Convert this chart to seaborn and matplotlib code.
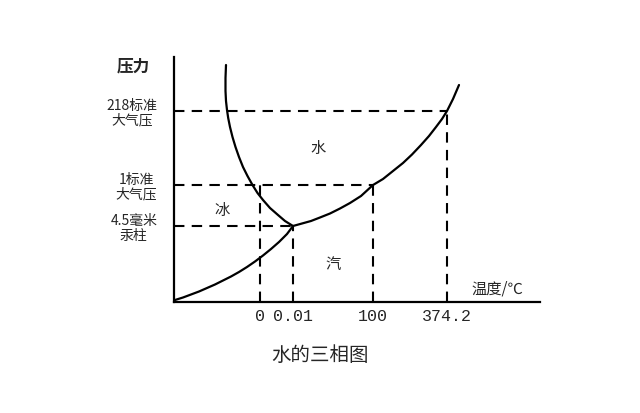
import matplotlib
matplotlib.use("Agg")
import matplotlib.pyplot as plt
import seaborn as sns
import pandas as pd


# schematic positions (the chart is not to scale)
temp_labels = ["0", "0.01", "100", "374.2"]
temp_pos = [86, 119, 199, 273]

press_labels = ["4.5毫米\n汞柱", "1标准\n大气压", "218标准\n大气压"]
press_pos = [76, 117, 191]

# phase boundaries
subl_x = [1, 9, 17, 25, 33, 41, 49, 57, 65, 73, 81, 89, 97, 105, 113, 119]
subl_y = [2, 4.5, 7.5, 10.5, 14, 17.5, 21.5, 25.5, 30, 35, 40.5, 46.5, 53, 60, 68, 76]

melt_x = [119, 111, 104, 96, 89, 83.5, 78.5, 73.5, 69, 65, 61.5, 58.5, 56, 54.2, 53, 52, 51.5, 51.5, 52]
melt_y = [76, 81, 87, 94, 102, 109, 117, 126, 135, 145, 155, 165, 175, 184, 192, 201, 211, 224, 237]

vap_x = [119, 128, 137, 146, 156, 166, 176, 187, 199, 209, 219, 229, 238, 247, 255, 262, 268, 273, 279, 285]
vap_y = [76, 78.5, 81, 84.5, 88.5, 93.5, 99, 106, 117, 123, 131, 139, 147.5, 157, 166, 175, 183, 191, 203, 217]

curves = pd.concat([
    pd.DataFrame({"T": subl_x, "P": subl_y, "curve": "升华"}),
    pd.DataFrame({"T": melt_x, "P": melt_y, "curve": "熔化"}),
    pd.DataFrame({"T": vap_x, "P": vap_y, "curve": "汽化"}),
])

sns.set_theme(style="white")
plt.rcParams['font.family'] = ['Noto Sans CJK SC', 'DejaVu Sans']

fig = plt.figure(figsize=(6.4, 4.13), dpi=100)
ax = fig.add_axes([174/640, 111/413, 366/640, 245/413])

for name, g in curves.groupby("curve", sort=False):
    sns.lineplot(data=g, x="T", y="P", ax=ax, color="black", lw=1.6,
                 sort=False, estimator=None, legend=False,
                 solid_joinstyle="round", solid_capstyle="round")

# dashed guide lines: horizontal from axis to the curve point, vertical down to axis
dash = dict(color="black", lw=1.5, linestyle=(0, (5, 3.5)))
guide_x = [temp_pos[1], temp_pos[2], temp_pos[3]]
for px, py in zip(guide_x, press_pos):
    ax.hlines(py, 0, px, **dash)
ax.vlines(temp_pos[0], 0, press_pos[1], **dash)
ax.vlines(temp_pos[1], 0, press_pos[0], **dash)
ax.vlines(temp_pos[2], 0, press_pos[1], **dash)
ax.vlines(temp_pos[3], 0, press_pos[2], **dash)

ax.set_xlim(0, 366)
ax.set_ylim(0, 245)
ax.set_xlabel("")
ax.set_ylabel("")

ax.set_xticks(temp_pos, temp_labels)
ax.set_yticks(press_pos, press_labels)
ax.tick_params(axis="x", length=0, pad=5, labelsize=12)
ax.tick_params(axis="y", length=0, pad=12, labelsize=10)
for lab in ax.get_xticklabels():
    lab.set_family(["Liberation Mono", "DejaVu Sans Mono"])
for lab in ax.get_yticklabels():
    lab.set_multialignment("center")
    lab.set_linespacing(1.1)

for side in ["top", "right"]:
    ax.spines[side].set_visible(False)
for side in ["left", "bottom"]:
    ax.spines[side].set_color("black")
    ax.spines[side].set_linewidth(1.6)

ax.text(144, 154, "水", ha="center", va="center", fontsize=11)
ax.text(48, 92, "冰", ha="center", va="center", fontsize=11)
ax.text(159, 37, "汽", ha="center", va="center", fontsize=11)
ax.text(323, 13, "温度/℃", ha="center", va="center", fontsize=11)
ax.text(-41, 236, "压力", ha="center", va="center", fontsize=12, fontweight="bold")

fig.text(0.5, 1 - 355/413, "水的三相图", ha="center", va="center", fontsize=14)

fig.savefig("out.png", dpi=100, facecolor="white")
